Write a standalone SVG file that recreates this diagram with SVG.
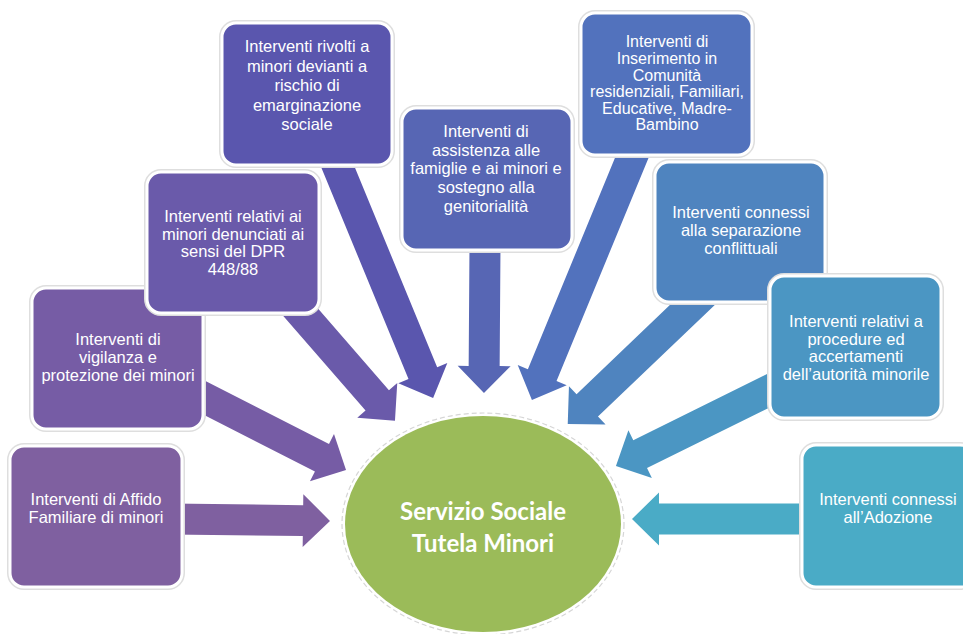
<svg xmlns="http://www.w3.org/2000/svg" width="963" height="634" viewBox="0 0 963 634">
<style>
.halo{fill:none;stroke:#dedede;stroke-width:6}
.box{stroke:#fff;stroke-width:3}
.t{font-family:"Liberation Sans",Arial,sans-serif;font-size:16.5px;fill:#fff;text-anchor:middle}
.t6{font-size:16px}
.c{font-family:Lato,"Open Sans",sans-serif;font-weight:700;font-size:24px;fill:#fff;text-anchor:middle}
</style>
<rect width="963" height="634" fill="#fff"/>
<g id="connectors">
<path transform="translate(170,519) rotate(0.7)" fill="#7F60A0" d="M0,-15.5 H133 V-26.5 L160,0 L133,26.5 V15.5 H0Z"/>
<path transform="translate(195,393) rotate(27)" fill="#765CA5" d="M0,-15.5 H142.5 V-26.5 L169.5,0 L142.5,26.5 V15.5 H0Z"/>
<path transform="translate(290,300) rotate(49)" fill="#6A5AAA" d="M0,-15.5 H133 V-26.5 L160,0 L133,26.5 V15.5 H0Z"/>
<path transform="translate(335,160) rotate(67.6)" fill="#5A56AE" d="M0,-15.5 H230.5 V-26.5 L257.5,0 L230.5,26.5 V15.5 H0Z"/>
<path transform="translate(485,245) rotate(90.4)" fill="#5766B4" d="M0,-15.5 H121 V-26.5 L148,0 L121,26.5 V15.5 H0Z"/>
<path transform="translate(635,150) rotate(112.4)" fill="#5272BD" d="M0,-15.5 H243.5 V-26.5 L270.5,0 L243.5,26.5 V15.5 H0Z"/>
<path transform="translate(708,290) rotate(136.3)" fill="#4F84BF" d="M0,-15.5 H167 V-26.5 L194,0 L167,26.5 V15.5 H0Z"/>
<path transform="translate(780,385) rotate(153.7)" fill="#4B96C3" d="M0,-15.5 H156 V-26.5 L183,0 L156,26.5 V15.5 H0Z"/>
<path transform="translate(815,519) rotate(180)" fill="#4AABC6" d="M0,-15.5 H156 V-26.5 L183,0 L156,26.5 V15.5 H0Z"/>
</g>
<g id="center">
<ellipse cx="483" cy="524" rx="141" ry="111" fill="none" stroke="#d6d6d6" stroke-width="1.2" stroke-dasharray="5 3"/>
<ellipse cx="483" cy="524" rx="138" ry="108" fill="#9BBB59"/>
<text class="c" x="483" y="520">Servizio Sociale</text>
<text class="c" x="483" y="552">Tutela Minori</text>
</g>
<g id="n1">
<rect class="halo" x="10" y="446" width="172" height="141" rx="14"/>
<rect class="box" x="10" y="446" width="172" height="141" rx="14" fill="#7F60A0"/>
<text class="t" x="96" y="505">Interventi di Affido</text>
<text class="t" x="96" y="523">Familiare di minori</text>
</g>
<g id="n2">
<rect class="halo" x="32" y="288" width="171" height="141" rx="14"/>
<rect class="box" x="32" y="288" width="171" height="141" rx="14" fill="#765CA5"/>
<text class="t" x="118" y="345">Interventi di</text>
<text class="t" x="118" y="363">vigilanza e</text>
<text class="t" x="118" y="381">protezione dei minori</text>
</g>
<g id="n3">
<rect class="halo" x="147" y="172" width="172" height="141" rx="14"/>
<rect class="box" x="147" y="172" width="172" height="141" rx="14" fill="#6A5AAA"/>
<text class="t" x="233" y="222">Interventi relativi ai</text>
<text class="t" x="233" y="239.5">minori denunciati ai</text>
<text class="t" x="233" y="257">sensi del  DPR</text>
<text class="t" x="233" y="274.5">448/88</text>
</g>
<g id="n4">
<rect class="halo" x="222" y="23" width="170" height="142" rx="14"/>
<rect class="box" x="222" y="23" width="170" height="142" rx="14" fill="#5A56AE"/>
<text class="t" x="307" y="52">Interventi rivolti a</text>
<text class="t" x="307" y="71.5">minori devianti a</text>
<text class="t" x="307" y="91">rischio di</text>
<text class="t" x="307" y="110.5">emarginazione</text>
<text class="t" x="307" y="130">sociale</text>
</g>
<g id="n5">
<rect class="halo" x="402" y="108" width="170" height="142" rx="14"/>
<rect class="box" x="402" y="108" width="170" height="142" rx="14" fill="#5766B4"/>
<text class="t" x="486" y="137">Interventi di</text>
<text class="t" x="486" y="155.7">assistenza alle</text>
<text class="t" x="486" y="174.4">famiglie e ai minori e</text>
<text class="t" x="486" y="193">sostegno alla</text>
<text class="t" x="486" y="212">genitorialità</text>
</g>
<g id="n6">
<rect class="halo" x="581" y="13" width="171" height="142" rx="14"/>
<rect class="box" x="581" y="13" width="171" height="142" rx="14" fill="#5272BD"/>
<text class="t t6" x="667" y="47">Interventi di</text>
<text class="t t6" x="667" y="64">Inserimento in</text>
<text class="t t6" x="667" y="81">Comunità</text>
<text class="t t6" x="667" y="97">residenziali, Familiari,</text>
<text class="t t6" x="667" y="113.5">Educative, Madre-</text>
<text class="t t6" x="667" y="130">Bambino</text>
</g>
<g id="n7">
<rect class="halo" x="655" y="162" width="170" height="140" rx="14"/>
<rect class="box" x="655" y="162" width="170" height="140" rx="14" fill="#4F84BF"/>
<text class="t" x="741" y="218">Interventi connessi</text>
<text class="t" x="741" y="236">alla separazione</text>
<text class="t" x="741" y="254">conflittuali</text>
</g>
<g id="n8">
<rect class="halo" x="770" y="276" width="171" height="142" rx="14"/>
<rect class="box" x="770" y="276" width="171" height="142" rx="14" fill="#4B96C3"/>
<text class="t" x="856" y="327">Interventi relativi a</text>
<text class="t" x="856" y="344.5">procedure ed</text>
<text class="t" x="856" y="362">accertamenti</text>
<text class="t" x="856" y="379.5">dell’autorità minorile</text>
</g>
<g id="n9">
<rect class="halo" x="802" y="445" width="172" height="142" rx="14"/>
<rect class="box" x="802" y="445" width="172" height="142" rx="14" fill="#4AABC6"/>
<text class="t" x="888" y="505">Interventi connessi</text>
<text class="t" x="888" y="523">all’Adozione</text>
</g>
</svg>
